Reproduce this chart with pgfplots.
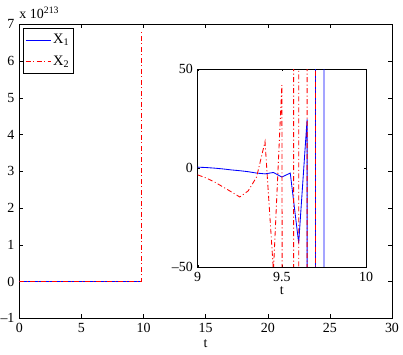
\documentclass[border=0pt]{standalone}
\usepackage{fontspec}
\setmainfont{Liberation Serif}
\usepackage{xcolor}
\usepackage{pgfplots}
\pgfplotsset{compat=1.18}

\pgfplotsset{
  mstyle/.style={
    scale only axis,
    tick align=inside,
    major tick length=4bp,
    tick style={black, line width=0.4bp},
    axis line style={line width=0.5bp},
    /pgf/number format/assume math mode=true,
    tick label style={font=\fontsize{14}{16}\selectfont},
    label style={font=\fontsize{14}{16}\selectfont},
  },
  serA/.style={draw=blue, color=blue, solid, line width=0.85bp},
  serB/.style={draw=red, color=red, line width=0.85bp,
    dash pattern=on 5bp off 2.5bp on 1bp off 2.5bp},
}

\begin{document}
\fontsize{14}{16}\selectfont
\begin{tikzpicture}
\begin{axis}[mstyle, name=main,
    width=372.7bp, height=294bp,
    xmin=0, xmax=30, ymin=-1, ymax=7,
    xtick={0,5,...,30},
    ytick={-1,0,...,7},
    yticklabels={–1,0,1,2,3,4,5,6,7},
    xlabel={t},
    xlabel style={yshift=2bp},
    legend cell align=left,
    legend image code/.code={\draw[#1] (0bp,0bp) -- (25bp,0bp);},
    legend style={at={(0.01,0.987)}, anchor=north west, draw=black,
      line width=0.5bp, font=\fontsize{14.5}{16}\selectfont,
      inner xsep=2bp, inner ysep=4bp, row sep=6bp},
]
% values in units of 10^213
\addplot[serA] coordinates {(0,0) (9.82,0)};
\addlegendentry{X\textsubscript{1}}
\addplot[serB] coordinates {(0,0) (9.82,0) (9.82,6.81)};
\addlegendentry{X\textsubscript{2}}
\end{axis}
\node[anchor=south west, inner sep=0pt, yshift=5bp] at (main.north west)
  {x 10\textsuperscript{213}};

\begin{axis}[mstyle,
    at={(178.4bp,51.3bp)}, anchor=south west,
    width=168.3bp, height=197.7bp,
    axis background/.style={fill=white},
    xmin=9, xmax=10, ymin=-50, ymax=50,
    xtick={9,9.5,10}, xticklabels={9,9.5,10},
    ytick={-50,0,50}, yticklabels={–50,0,50},
    major tick length=2bp,
    xlabel={t},
    xlabel style={yshift=4bp},
]
\addplot[serA] coordinates {
  (9,0.5) (9.05,0.3) (9.1,0) (9.15,-0.4) (9.2,-0.9) (9.25,-1.3) (9.3,-1.8)
  (9.35,-2.5) (9.4,-2.9) (9.45,-2.2) (9.5,-4.5) (9.55,-2.5) (9.6,-37.9)
  (9.65,24.7) (9.65,-200) (9.7,-200) (9.7,200) (9.75,200) (9.75,-200) (9.8,-200)
};
\addplot[serB] coordinates {
  (9,-3.4) (9.05,-5) (9.1,-7) (9.15,-9.5) (9.2,-12) (9.25,-14.6) (9.3,-11.5)
  (9.35,-4.5) (9.4,13.4) (9.45,-52) (9.5,42) (9.505,-200) (9.57,-200)
  (9.57,200) (9.6,200) (9.6,-200) (9.65,-200) (9.65,200) (9.7,200)
  (9.7,-200) (9.75,-200)
};
\end{axis}
\pgfresetboundingbox
\path[use as bounding box] ([shift={(-19.3bp,-36bp)}]main.south west)
  rectangle ([shift={(11bp,24.3bp)}]main.north east);
\end{tikzpicture}
\end{document}
